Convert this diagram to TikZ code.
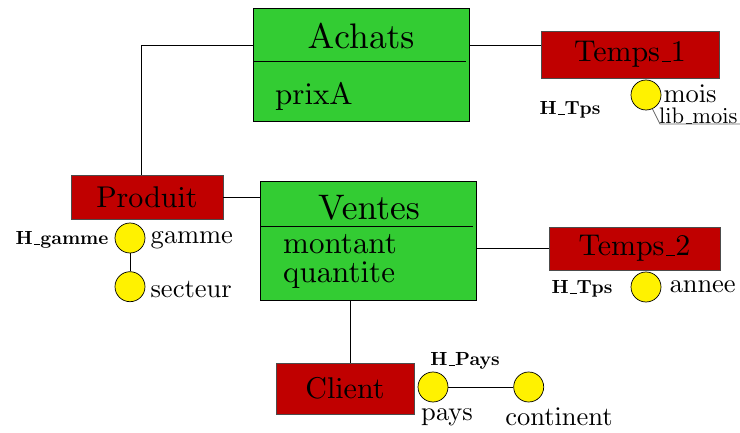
\documentclass[tikz,border=0pt]{standalone}
\usepackage[OT1]{fontenc}
\usepackage{xcolor}
\usepackage{tikz}
\usetikzlibrary{positioning}
\definecolor{factgreen}{HTML}{33CC33}
\definecolor{dimred}{HTML}{C00000}
% cmr10 design at every size
\DeclareFontFamily{OT1}{cmrten}{}
\DeclareFontShape{OT1}{cmrten}{m}{n}{<-> cmr10}{}
\DeclareFontShape{OT1}{cmrten}{b}{n}{<-> cmbx10}{}
\DeclareFontShape{OT1}{cmrten}{bx}{n}{<-> cmbx10}{}
\renewcommand{\rmdefault}{cmrten}
\tikzstyle{fact} = [rectangle, draw=black, fill=factgreen, minimum width=216pt, minimum height=113pt, inner sep=0pt, line width=0.8pt]
\tikzstyle{dimension} = [rectangle, draw=black!70, fill=dimred, text centered, inner sep=0pt, line width=0.6pt, font=\fontsize{30}{34}\selectfont]
\tikzstyle{level} = [circle, draw=black, fill=yellow, minimum size=30pt, inner sep=0pt, line width=0.7pt]
\tikzstyle{factname} = [font=\fontsize{35.5}{40}\selectfont]
\tikzstyle{measure} = [font=\fontsize{31}{34}\selectfont, inner sep=0pt, anchor=base west]
\tikzstyle{attr} = [font=\fontsize{26.5}{30}\selectfont, inner sep=0pt]
\tikzstyle{hier} = [font=\fontsize{19}{21}\bfseries\selectfont, inner sep=0pt]
\tikzstyle{link} = [line width=0.8pt]

\begin{document}
\begin{tikzpicture}[x=1pt, y=-1pt]
        \useasboundingbox (0,0) rectangle (740,433);

        % Fact tables
        \node (achats) [fact] at (361,64.5) {};
        \node (achatsT) [factname] at (361,36) {Achats};
        \node (prixA) [measure] at (275,105) {prixA};
        \draw [link] (253,61) -- (466,61);

        \node (ventes) [fact, minimum height=119pt] at (368,240.5) {};
        \node (ventesT) [factname] at (369,207) {Ventes};
        \node (montant) [measure] at (283,254) {montant};
        \node (quantite) [measure] at (283,283) {quantite};
        \draw [link] (260,226) -- (473,226);

        % Dimensions
        \node (temps1) [dimension, minimum width=178pt, minimum height=47pt] at (630,54.5) {Temps\_1};
        \node (produit) [dimension, minimum width=152pt, minimum height=44pt] at (147,197) {Produit};
        \node (temps2) [dimension, minimum width=171pt, minimum height=43pt] at (634.5,248.5) {Temps\_2};
        \node (client) [dimension, minimum width=138pt, minimum height=51pt] at (345,388.5) {Client};

        % Levels
        \node (mois) [level] at (646,95) {};
        \node (annee) [level] at (646,287) {};
        \node (gamme) [level] at (130,238) {};
        \node (secteur) [level, below=18pt of gamme] {};
        \node (pays) [level] at (433,387) {};
        \node (continent) [level, right=65pt of pays] {};

        % Level names
        \node (moisL) [attr, right=2pt of mois, yshift=1pt] {mois};
        \node (libmois) [attr, font=\fontsize{22.5}{26}\selectfont, anchor=west] at (659,116) {lib\_mois};
        \node (anneeL) [attr, right=8pt of annee] {annee};
        \node (gammeL) [attr, right=5pt of gamme, yshift=-2pt] {gamme};
        \node (secteurL) [attr, right=5pt of secteur, yshift=-3pt] {secteur};
        \node (paysL) [attr] at (447,417) {pays};
        \node (continentL) [attr] at (559,417) {continent};

        % Hierarchies
        \node (htps1) [hier] at (570,110) {H\_Tps};
        \node (htps2) [hier] at (582,289) {H\_Tps};
        \node (hgamme) [hier, left=6pt of gamme, yshift=-2pt] {H\_gamme};
        \node (hpays) [hier] at (465,361) {H\_Pays};

        % Links
        \draw [link] ([yshift=19.5pt]achats.west) -| ([xshift=-6pt]produit.north);
        \draw [link] ([yshift=19.5pt]achats.east) -- ([yshift=9.5pt]temps1.west);
        \draw [link] (produit.east) -- (produit.east -| ventes.west);
        \draw [link] (temps2.west -| ventes.east) -- (temps2.west);
        \draw [link] ([xshift=5pt]client.north |- ventes.south) -- ([xshift=5pt]client.north);
        \draw [link] (gamme) -- (secteur);
        \draw [link] (pays) -- (continent);
        \coordinate (libend) at (740,124);
        \draw [link, black!60] (mois.-65) -- (660,124) -- (libend);

\end{tikzpicture}
\end{document}
